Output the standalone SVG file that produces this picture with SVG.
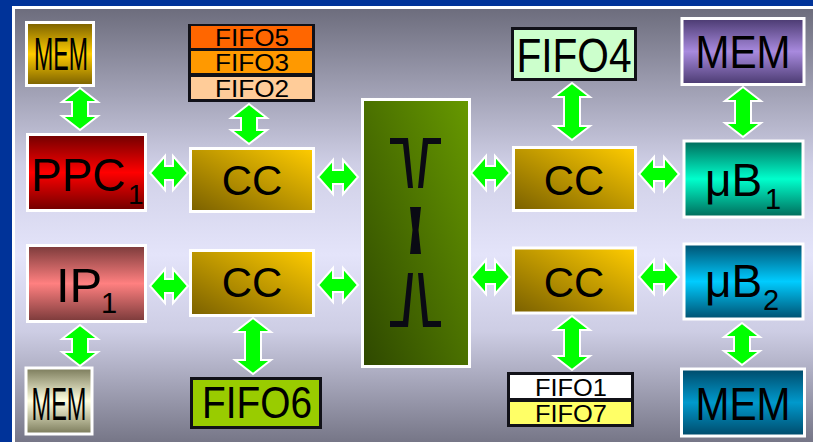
<svg xmlns="http://www.w3.org/2000/svg" width="813" height="442" viewBox="0 0 813 442">
<defs>
<linearGradient id="panel" x1="0" y1="0" x2="0" y2="1">
<stop offset="0" stop-color="#6c6c7c"/><stop offset="0.35" stop-color="#cfcfe6"/><stop offset="0.55" stop-color="#e4e4fa"/><stop offset="0.72" stop-color="#cdcde4"/><stop offset="1" stop-color="#6a6a7a"/>
</linearGradient>
<linearGradient id="gGold" x1="0" y1="0" x2="0" y2="1"><stop offset="0" stop-color="#7a6000"/><stop offset="0.5" stop-color="#ffcc00"/><stop offset="1" stop-color="#7a6000"/></linearGradient>
<linearGradient id="gPurple" x1="0" y1="0" x2="0" y2="1"><stop offset="0" stop-color="#4a3a70"/><stop offset="0.5" stop-color="#a88ade"/><stop offset="1" stop-color="#4a3a70"/></linearGradient>
<linearGradient id="gRed" x1="0" y1="0" x2="0" y2="1"><stop offset="0" stop-color="#700000"/><stop offset="0.5" stop-color="#ff0000"/><stop offset="1" stop-color="#700000"/></linearGradient>
<linearGradient id="gPink" x1="0" y1="0" x2="0" y2="1"><stop offset="0" stop-color="#7a3a3a"/><stop offset="0.5" stop-color="#ff8080"/><stop offset="1" stop-color="#7a3a3a"/></linearGradient>
<linearGradient id="gTeal" x1="0" y1="0" x2="0" y2="1"><stop offset="0" stop-color="#006a5a"/><stop offset="0.5" stop-color="#00ffcc"/><stop offset="1" stop-color="#006a5a"/></linearGradient>
<linearGradient id="gCyan" x1="0" y1="0" x2="0" y2="1"><stop offset="0" stop-color="#005070"/><stop offset="0.5" stop-color="#00ccff"/><stop offset="1" stop-color="#005070"/></linearGradient>
<linearGradient id="gBeige" x1="0" y1="0" x2="0" y2="1"><stop offset="0" stop-color="#7a7a5a"/><stop offset="0.5" stop-color="#ffffe0"/><stop offset="1" stop-color="#7a7a5a"/></linearGradient>
<linearGradient id="gBlue" x1="0" y1="0" x2="0" y2="1"><stop offset="0" stop-color="#004a6a"/><stop offset="0.5" stop-color="#0099cc"/><stop offset="1" stop-color="#004a6a"/></linearGradient>
<linearGradient id="gCC" x1="0" y1="1" x2="1" y2="0"><stop offset="0" stop-color="#7a6000"/><stop offset="1" stop-color="#ffcc00"/></linearGradient>
<linearGradient id="gXB" x1="0" y1="1" x2="1" y2="0"><stop offset="0" stop-color="#2e4800"/><stop offset="1" stop-color="#679900"/></linearGradient>
<style>
.wb{stroke:#ffffff;stroke-width:3}
.bb{fill:#111118}
.t{font-family:"Liberation Sans",Arial,sans-serif;fill:#000000}
.c{text-anchor:middle}
.arr{fill:#00ff00;stroke:#ffffff;stroke-width:2;stroke-linejoin:miter}
.sym{fill:#0a0a14}
</style>
</defs>
<rect x="0" y="0" width="813" height="442" fill="#003399"/>
<rect x="13.5" y="7.5" width="820" height="450" fill="url(#panel)" stroke="#ffffff" stroke-width="3"/>

<g id="connectors">
<polygon class="arr" points="150,173 165,156 165,166 173,166 173,156 188,173 173,190 173,180 165,180 165,190"/>
<polygon class="arr" points="318,177 333,160 333,170 343,170 343,160 358,177 343,194 343,184 333,184 333,194"/>
<polygon class="arr" points="471,173 486,156 486,166 495,166 495,156 510,173 495,190 495,180 486,180 486,190"/>
<polygon class="arr" points="639,174 654,157 654,167 664,167 664,157 679,174 664,191 664,181 654,181 654,191"/>
<polygon class="arr" points="150,286 165,269 165,279 173,279 173,269 188,286 173,303 173,293 165,293 165,303"/>
<polygon class="arr" points="318,285 333,268 333,278 343,278 343,268 358,285 343,302 343,292 333,292 333,302"/>
<polygon class="arr" points="471,277 486,260 486,270 495,270 495,260 510,277 495,294 495,284 486,284 486,294"/>
<polygon class="arr" points="639,277 654,260 654,270 664,270 664,260 679,277 664,294 664,284 654,284 654,294"/>
<polygon class="arr" points="80,88 98,102 88,102 88,116 98,116 80,130 62,116 72,116 72,102 62,102"/>
<polygon class="arr" points="249,104 267,118 257,118 257,130 267,130 249,144 231,130 241,130 241,118 231,118"/>
<polygon class="arr" points="572,83 590,97 580,97 580,126 590,126 572,140 554,126 564,126 564,97 554,97"/>
<polygon class="arr" points="743,87 761,101 751,101 751,123 761,123 743,137 725,123 735,123 735,101 725,101"/>
<polygon class="arr" points="80,325 98,339 88,339 88,352 98,352 80,366 62,352 72,352 72,339 62,339"/>
<polygon class="arr" points="253,318 271,332 261,332 261,360 271,360 253,374 235,360 245,360 245,332 235,332"/>
<polygon class="arr" points="572,316 590,330 580,330 580,356 590,356 572,370 554,356 564,356 564,330 554,330"/>
<polygon class="arr" points="742,323 760,337 750,337 750,351 760,351 742,365 724,351 734,351 734,337 724,337"/>
</g>

<g id="mem-tl"><rect x="26.5" y="22.5" width="67" height="63" fill="url(#gGold)" class="wb"/><text class="t c" x="61" y="70" font-size="47" textLength="54" lengthAdjust="spacingAndGlyphs">MEM</text></g>
<g id="fifo-532"><rect x="188" y="24" width="127" height="78" class="bb"/>
<rect x="191" y="26" width="121" height="22" fill="#ff6600"/><rect x="191" y="51" width="121" height="22" fill="#ff9900"/><rect x="191" y="77" width="121" height="22" fill="#ffcc99"/>
<text class="t c" x="252" y="46" font-size="23" textLength="74" lengthAdjust="spacingAndGlyphs">FIFO5</text>
<text class="t c" x="252" y="71" font-size="23" textLength="74" lengthAdjust="spacingAndGlyphs">FIFO3</text>
<text class="t c" x="252" y="97" font-size="23" textLength="74" lengthAdjust="spacingAndGlyphs">FIFO2</text></g>
<g id="fifo4"><rect x="511" y="27" width="126" height="54" class="bb"/><rect x="514" y="30" width="120" height="48" fill="#ccffcc"/><text class="t c" x="574" y="72" font-size="48" textLength="115" lengthAdjust="spacingAndGlyphs">FIFO4</text></g>
<g id="mem-tr"><rect x="682" y="18.5" width="122" height="66" fill="url(#gPurple)" class="wb"/><text class="t c" x="743" y="68" font-size="46" textLength="95" lengthAdjust="spacingAndGlyphs">MEM</text></g>

<g id="ppc1"><rect x="27.5" y="134.5" width="118" height="76" fill="url(#gRed)" class="wb"/><text class="t" x="31" y="191" font-size="46">PPC<tspan x="128" y="204" font-size="28">1</tspan></text></g>
<g id="cc-tl"><rect x="190.5" y="148.5" width="123" height="63" fill="url(#gCC)" class="wb"/><text class="t c" x="252" y="195" font-size="42">CC</text></g>
<g id="crossbar"><rect x="362.5" y="99.5" width="107" height="267" fill="url(#gXB)" class="wb"/>
<polygon class="sym" points="390,138 408,138 413,188 408,188 403,144 390,144"/>
<polygon class="sym" points="441,138 423,138 418,188 423,188 428,144 441,144"/>
<polygon class="sym" points="410,207 421,207 418.5,230 421,254 410,254 412.5,230"/>
<polygon class="sym" points="408,273 413,273 408,327 390,327 390,321 403,321"/>
<polygon class="sym" points="423,273 418,273 423,327 441,327 441,321 428,321"/></g>
<g id="cc-tr"><rect x="513.5" y="147.5" width="122" height="63" fill="url(#gCC)" class="wb"/><text class="t c" x="574" y="195" font-size="42">CC</text></g>
<g id="ub1"><rect x="684" y="141" width="119" height="76" fill="url(#gTeal)" class="wb"/><text class="t" x="705" y="196" font-size="46">μB<tspan x="765" y="209" font-size="29">1</tspan></text></g>

<g id="ip1"><rect x="27.5" y="245.5" width="118" height="76" fill="url(#gPink)" class="wb"/><text class="t" x="56" y="302" font-size="49">IP<tspan x="101" y="313" font-size="29">1</tspan></text></g>
<g id="cc-bl"><rect x="190.5" y="250.5" width="123" height="65" fill="url(#gCC)" class="wb"/><text class="t c" x="252" y="297" font-size="42">CC</text></g>
<g id="cc-br"><rect x="513.5" y="248" width="122" height="65" fill="url(#gCC)" class="wb"/><text class="t c" x="574" y="297" font-size="42">CC</text></g>
<g id="ub2"><rect x="684" y="244" width="119" height="75" fill="url(#gCyan)" class="wb"/><text class="t" x="705" y="297" font-size="46">μB<tspan x="763" y="310" font-size="29">2</tspan></text></g>

<g id="mem-bl"><rect x="26" y="368" width="66" height="66" fill="url(#gBeige)" class="wb"/><text class="t c" x="59" y="420" font-size="47" textLength="55" lengthAdjust="spacingAndGlyphs">MEM</text></g>
<g id="fifo6"><rect x="190" y="377" width="132" height="52" class="bb"/><rect x="193" y="380" width="126" height="46" fill="#99cc00"/><text class="t c" x="257" y="418" font-size="44" textLength="110" lengthAdjust="spacingAndGlyphs">FIFO6</text></g>
<g id="fifo17"><rect x="507" y="372" width="127" height="55" class="bb"/><rect x="510" y="375" width="121" height="23" fill="#ffffff"/><rect x="510" y="402" width="121" height="22" fill="#ffff66"/>
<text class="t c" x="571" y="396" font-size="23" textLength="72" lengthAdjust="spacingAndGlyphs">FIFO1</text>
<text class="t c" x="571" y="422" font-size="23" textLength="72" lengthAdjust="spacingAndGlyphs">FIFO7</text></g>
<g id="mem-br"><rect x="681.5" y="369" width="123" height="67" fill="url(#gBlue)" class="wb"/><text class="t c" x="743" y="420" font-size="46" textLength="95" lengthAdjust="spacingAndGlyphs">MEM</text></g>
</svg>
